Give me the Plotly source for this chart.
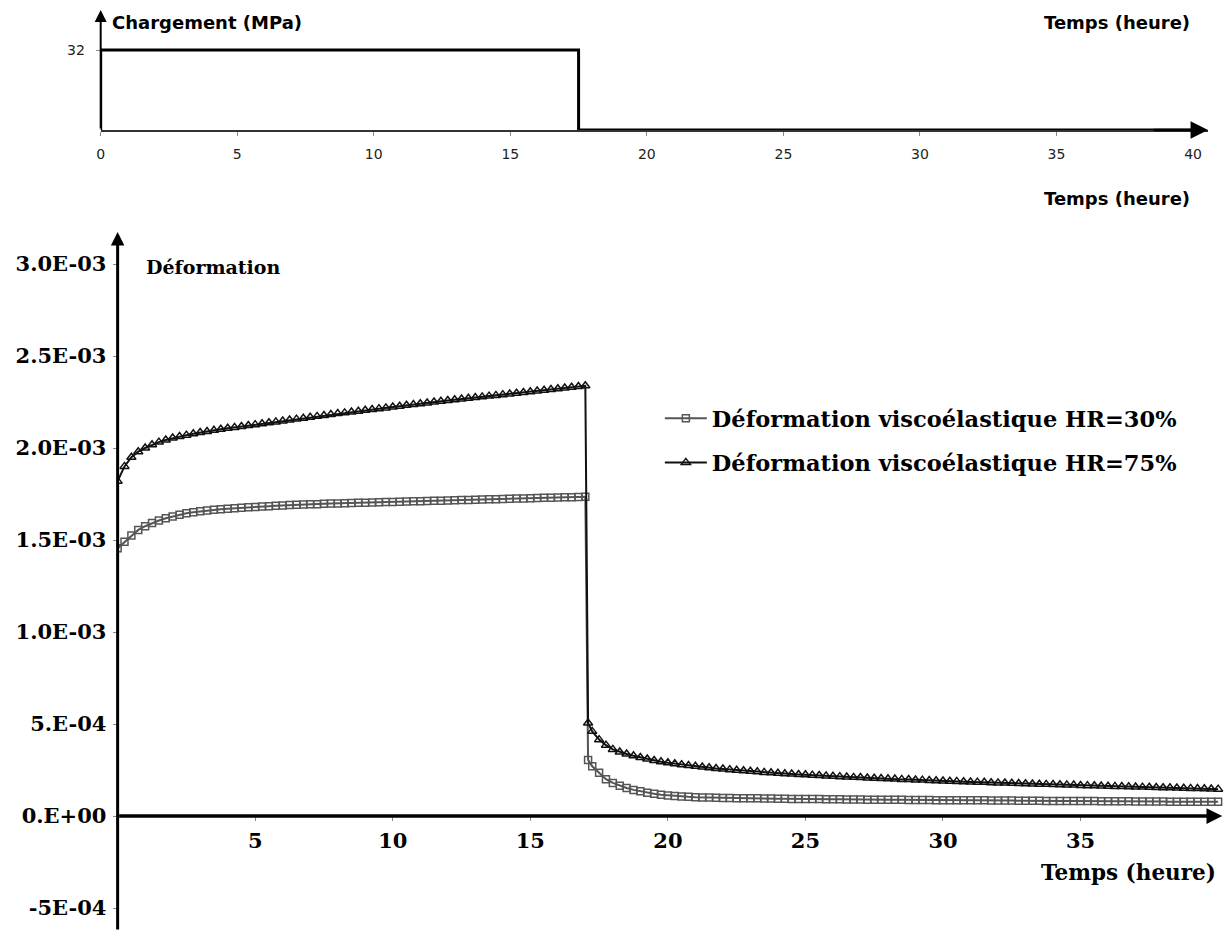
import plotly.graph_objects as go

# ---------------- data ----------------
load_t = [0, 0, 17.5, 17.5, 40.2]
load_mpa = [0, 32, 32, 0, 0]

temps = [
    0.00, 0.25, 0.50, 0.75, 1.00, 1.25, 1.50, 1.75, 2.00, 2.25, 2.50, 2.75,
    3.00, 3.25, 3.50, 3.75, 4.00, 4.25, 4.50, 4.75, 5.00, 5.25, 5.50, 5.75,
    6.00, 6.25, 6.50, 6.75, 7.00, 7.25, 7.50, 7.75, 8.00, 8.25, 8.50, 8.75,
    9.00, 9.25, 9.50, 9.75, 10.00, 10.25, 10.50, 10.75, 11.00, 11.25, 11.50, 11.75,
    12.00, 12.25, 12.50, 12.75, 13.00, 13.25, 13.50, 13.75, 14.00, 14.25, 14.50, 14.75,
    15.00, 15.25, 15.50, 15.75, 16.00, 16.25, 16.50, 16.75, 17.00,
    17.10, 17.25, 17.50, 17.75, 18.00, 18.25, 18.50, 18.75, 19.00, 19.25, 19.50, 19.75,
    20.00, 20.25, 20.50, 20.75, 21.00, 21.25, 21.50, 21.75, 22.00, 22.25, 22.50, 22.75,
    23.00, 23.25, 23.50, 23.75, 24.00, 24.25, 24.50, 24.75, 25.00, 25.25, 25.50, 25.75,
    26.00, 26.25, 26.50, 26.75, 27.00, 27.25, 27.50, 27.75, 28.00, 28.25, 28.50, 28.75,
    29.00, 29.25, 29.50, 29.75, 30.00, 30.25, 30.50, 30.75, 31.00, 31.25, 31.50, 31.75,
    32.00, 32.25, 32.50, 32.75, 33.00, 33.25, 33.50, 33.75, 34.00, 34.25, 34.50, 34.75,
    35.00, 35.25, 35.50, 35.75, 36.00, 36.25, 36.50, 36.75, 37.00, 37.25, 37.50, 37.75,
    38.00, 38.25, 38.50, 38.75, 39.00, 39.25, 39.50, 39.75, 40.00,
]

# HR = 30 %  (x 1e-3)
hr30 = [
    1.455, 1.490, 1.525, 1.555, 1.575, 1.592, 1.606, 1.618, 1.628, 1.637, 1.645, 1.651,
    1.656, 1.660, 1.664, 1.667, 1.670, 1.673, 1.676, 1.678, 1.680, 1.682, 1.684, 1.686,
    1.688, 1.690, 1.691, 1.693, 1.694, 1.695, 1.697, 1.698, 1.699, 1.700, 1.701, 1.702,
    1.703, 1.704, 1.705, 1.706, 1.707, 1.708, 1.709, 1.710, 1.711, 1.712, 1.713, 1.714,
    1.715, 1.716, 1.717, 1.718, 1.719, 1.720, 1.721, 1.722, 1.723, 1.724, 1.725, 1.726,
    1.727, 1.728, 1.729, 1.730, 1.731, 1.732, 1.733, 1.734, 1.735,
    0.305, 0.270, 0.235, 0.200, 0.180, 0.165, 0.152, 0.142, 0.134, 0.127, 0.121, 0.116,
    0.112, 0.109, 0.106, 0.104, 0.102, 0.101, 0.100, 0.099, 0.098, 0.098, 0.097, 0.097,
    0.096, 0.096, 0.095, 0.095, 0.094, 0.094, 0.093, 0.093, 0.092, 0.092, 0.092, 0.091,
    0.091, 0.091, 0.090, 0.090, 0.090, 0.089, 0.089, 0.089, 0.088, 0.088, 0.088, 0.087,
    0.087, 0.087, 0.087, 0.086, 0.086, 0.086, 0.086, 0.085, 0.085, 0.085, 0.085, 0.084,
    0.084, 0.084, 0.084, 0.083, 0.083, 0.083, 0.083, 0.082, 0.082, 0.082, 0.082, 0.081,
    0.081, 0.081, 0.081, 0.080, 0.080, 0.080, 0.080, 0.080, 0.079, 0.079, 0.079, 0.079,
    0.079, 0.078, 0.078, 0.078, 0.078, 0.078, 0.077, 0.077, 0.077,
]

# HR = 75 %  (x 1e-3)
hr75 = [
    1.820, 1.900, 1.950, 1.980, 2.000, 2.018, 2.032, 2.044, 2.054, 2.062, 2.070, 2.077,
    2.084, 2.090, 2.096, 2.102, 2.107, 2.112, 2.117, 2.122, 2.127, 2.132, 2.137, 2.142,
    2.147, 2.152, 2.157, 2.162, 2.167, 2.172, 2.177, 2.182, 2.187, 2.191, 2.196, 2.200,
    2.205, 2.209, 2.214, 2.218, 2.223, 2.227, 2.232, 2.236, 2.241, 2.245, 2.250, 2.254,
    2.258, 2.262, 2.266, 2.270, 2.274, 2.278, 2.282, 2.286, 2.290, 2.294, 2.298, 2.302,
    2.306, 2.310, 2.314, 2.318, 2.322, 2.326, 2.330, 2.334, 2.338,
    0.505, 0.460, 0.415, 0.385, 0.362, 0.348, 0.337, 0.327, 0.318, 0.310, 0.302, 0.295,
    0.289, 0.284, 0.279, 0.274, 0.270, 0.266, 0.262, 0.258, 0.255, 0.252, 0.249, 0.246,
    0.243, 0.240, 0.237, 0.235, 0.232, 0.230, 0.228, 0.226, 0.224, 0.222, 0.220, 0.218,
    0.216, 0.214, 0.212, 0.210, 0.209, 0.207, 0.205, 0.204, 0.202, 0.201, 0.199, 0.198,
    0.196, 0.195, 0.193, 0.192, 0.190, 0.189, 0.188, 0.186, 0.185, 0.184, 0.183, 0.181,
    0.180, 0.179, 0.178, 0.177, 0.175, 0.174, 0.173, 0.172, 0.171, 0.170, 0.169, 0.168,
    0.166, 0.165, 0.164, 0.163, 0.162, 0.161, 0.160, 0.159, 0.158, 0.157, 0.156, 0.155,
    0.154, 0.153, 0.152, 0.151, 0.150, 0.149, 0.148, 0.147, 0.146,
]

y_tickvals = [3.0e-3, 2.5e-3, 2.0e-3, 1.5e-3, 1.0e-3, 5e-4, 0.0, -5e-4]
y_ticktext = ["3.0E-03", "2.5E-03", "2.0E-03", "1.5E-03", "1.0E-03", "5.E-04", "0.E+00", "-5E-04"]
x_ticks = [5, 10, 15, 20, 25, 30, 35]
top_x_ticks = [0, 5, 10, 15, 20, 25, 30, 35, 40]

labels = ["Déformation viscoélastique HR=30%", "Déformation viscoélastique HR=75%"]

# ---------------- figure ----------------
W, H = 1225, 931
SERIF = "DejaVu Serif"
SANS = "DejaVu Sans"

def px_x(p):
    return p / W

def px_y(p):
    return 1 - p / H

fig = go.Figure()

# loading (top panel)
fig.add_trace(go.Scatter(x=load_t, y=load_mpa, xaxis="x2", yaxis="y2", mode="lines",
                         line=dict(color="black", width=3), showlegend=False,
                         hoverinfo="skip"))

# strain curves
fig.add_trace(go.Scatter(
    x=temps, y=[v * 1e-3 for v in hr30], mode="lines+markers", name=labels[0],
    line=dict(color="#555555", width=2),
    marker=dict(symbol="square-open", size=7, color="#555555", line=dict(width=1.5)),
    legendgroup="a"))
fig.add_trace(go.Scatter(
    x=temps, y=[v * 1e-3 for v in hr75], mode="lines+markers", name=labels[1],
    line=dict(color="#111111", width=2),
    marker=dict(symbol="triangle-up-open", size=8, color="#111111", line=dict(width=1.5)),
    legendgroup="b"))

ymin, ymax = -0.625e-3, 3.174e-3
xmax = 40.25

fig.update_layout(
    width=W, height=H, autosize=False,
    margin=dict(l=0, r=0, t=0, b=0),
    paper_bgcolor="white", plot_bgcolor="rgba(0,0,0,0)",
    showlegend=True,
    legend=dict(x=px_x(658), y=px_y(397), xanchor="left", yanchor="top",
                bgcolor="rgba(0,0,0,0)", tracegroupgap=12,
                font=dict(family=SERIF, size=22.5, color="black", weight="bold"),
                itemwidth=42),
    xaxis=dict(domain=[px_x(114), 1.0], range=[0, xmax], anchor="free",
               position=px_y(816), showgrid=False, zeroline=False, showline=False,
               tickvals=x_ticks, ticks="outside", ticklen=4, tickcolor="#888",
               tickfont=dict(family=SERIF, size=21, color="black", weight="bold"),
               ticklabelstandoff=2),
    yaxis=dict(domain=[0, px_y(232)], range=[ymin, ymax], anchor="x",
               showgrid=False, zeroline=False, showline=False,
               tickvals=y_tickvals, ticktext=y_ticktext, ticks="outside", ticklen=4,
               tickcolor="#888",
               tickfont=dict(family=SERIF, size=21, color="black", weight="bold"),
               ticklabelstandoff=2),
    xaxis2=dict(domain=[px_x(97), px_x(1208)], range=[0, 40.55], anchor="y2",
                showgrid=False, zeroline=False, showline=True, linewidth=1.5,
                linecolor="#333", tickvals=top_x_ticks, ticks="outside", ticklen=4,
                tickcolor="#888",
                tickfont=dict(family=SANS, size=14, color="#222"),
                ticklabelstandoff=6),
    yaxis2=dict(domain=[px_y(130), px_y(10)], range=[0, 48], anchor="x2",
                showgrid=False, zeroline=False, showline=False,
                tickvals=[32], ticktext=["32"], ticks="outside", ticklen=4,
                tickcolor="#888",
                tickfont=dict(family=SANS, size=14, color="#222"),
                ticklabelstandoff=8),
)

# axis arrows
arrows = [
    dict(x=40.55, y=0, ax=38.5, ay=0, xref="x2", yref="y2", axref="x2", ayref="y2",
         arrowwidth=2.5, arrowhead=2, arrowsize=1.4),
    dict(x=0, y=48, ax=0, ay=0, xref="x2", yref="y2", axref="x2", ayref="y2",
         arrowwidth=2, arrowhead=2, arrowsize=1.2),
    dict(x=40.15, y=0, ax=0, ay=0, xref="x", yref="y", axref="x", ayref="y",
         arrowwidth=3.5, arrowhead=2, arrowsize=0.9),
    dict(x=0, y=ymax, ax=0, ay=ymin, xref="x", yref="y", axref="x", ayref="y",
         arrowwidth=3, arrowhead=2, arrowsize=0.9),
]
for a in arrows:
    fig.add_annotation(text="", showarrow=True, arrowcolor="black", standoff=0,
                       startstandoff=0, **a)

texts = [
    dict(text="Chargement (MPa)", x=px_x(106), y=px_y(22), xanchor="left",
         font=dict(family=SANS, size=18, color="black", weight="bold")),
    dict(text="Temps (heure)", x=px_x(1192), y=px_y(22), xanchor="right",
         font=dict(family=SANS, size=18, color="black", weight="bold")),
    dict(text="Temps (heure)", x=px_x(1192), y=px_y(198), xanchor="right",
         font=dict(family=SANS, size=18, color="black", weight="bold")),
    dict(text="Déformation", x=px_x(140), y=px_y(267), xanchor="left",
         font=dict(family=SERIF, size=19, color="black", weight="bold")),
    dict(text="Temps (heure)", x=px_x(1218), y=px_y(872), xanchor="right",
         font=dict(family=SERIF, size=21.5, color="black", weight="bold")),
]
for t in texts:
    fig.add_annotation(xref="paper", yref="paper", showarrow=False, yanchor="middle", **t)

fig.write_html("out.html", config={"displayModeBar": False},
               post_script="document.body.style.margin='0';")
